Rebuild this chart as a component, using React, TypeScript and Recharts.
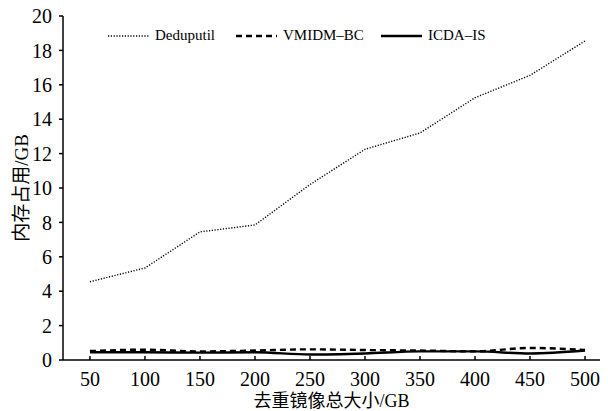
import { LineChart, Line, XAxis, YAxis, Legend } from 'recharts';

const sizes = [50, 100, 150, 200, 250, 300, 350, 400, 450, 500];
const deduputil = [4.55, 5.35, 7.45, 7.85, 10.2, 12.25, 13.2, 15.25, 16.55, 18.55];
const vmidmBc = [0.52, 0.6, 0.5, 0.55, 0.62, 0.58, 0.55, 0.5, 0.7, 0.58];
const icdaIs = [0.45, 0.45, 0.43, 0.45, 0.32, 0.38, 0.5, 0.5, 0.38, 0.55];
const xTicks = [50, 100, 150, 200, 250, 300, 350, 400, 450, 500];
const yTicks = [0, 2, 4, 6, 8, 10, 12, 14, 16, 18, 20];

const data = sizes.map((x, i) => ({
  x,
  deduputil: deduputil[i],
  vmidm: vmidmBc[i],
  icda: icdaIs[i],
}));

const SERIF = 'Liberation Serif, Noto Sans CJK SC, serif';

const legendItems = [
  { name: 'Deduputil', dash: '1.2 1.6', width: 1.4, left: 0 },
  { name: 'VMIDM–BC', dash: '6 4', width: 2.4, left: 128 },
  { name: 'ICDA–IS', dash: undefined, width: 2.4, left: 273 },
];

function LegendBox() {
  return (
    <div style={{ position: 'relative', height: 20, fontFamily: SERIF, fontSize: 15, color: '#000' }}>
      {legendItems.map((it) => (
        <div key={it.name} style={{ position: 'absolute', left: it.left, top: 0, display: 'flex', alignItems: 'center', whiteSpace: 'nowrap' }}>
          <svg width={41} height={10}>
            <line x1={0} y1={5} x2={41} y2={5} stroke="#000" strokeWidth={it.width} strokeDasharray={it.dash} />
          </svg>
          <span style={{ marginLeft: 6 }}>{it.name}</span>
        </div>
      ))}
    </div>
  );
}

export default function App() {
  return (
    <div style={{ position: 'absolute', left: 0, top: 0, width: 608, height: 411, background: '#fff' }}>
      <LineChart width={608} height={411} data={data} margin={{ top: 16, right: 8, left: 0, bottom: 0 }}>
        <XAxis
          dataKey="x"
          type="number"
          domain={[25.5, 513.6]}
          ticks={xTicks}
          allowDataOverflow
          height={51}
          stroke="#000"
          strokeWidth={1.5}
          tickSize={-4}
          tickMargin={16}
          tick={{ fill: '#000', fontSize: 20, fontFamily: SERIF }}
          label={(props: any) => {
            const vb = props.viewBox;
            return (
              <text x={vb.x + vb.width / 2} y={401} textAnchor="middle" dominantBaseline="central" fontSize={18} fontFamily={SERIF} fill="#000">
                去重镜像总大小/GB
              </text>
            );
          }}
        />
        <YAxis
          type="number"
          domain={[0, 20]}
          ticks={yTicks}
          width={63}
          stroke="#000"
          strokeWidth={1.5}
          tickSize={4}
          tickMargin={7}
          tick={{ fill: '#000', fontSize: 20, fontFamily: SERIF }}
          label={(props: any) => {
            const vb = props.viewBox;
            const cy = vb.y + vb.height / 2;
            return (
              <text x={21} y={cy} transform={`rotate(-90 21 ${cy})`} textAnchor="middle" dominantBaseline="central" fontSize={19} fontFamily={SERIF} fill="#000">
                内存占用/GB
              </text>
            );
          }}
        />
        <Legend verticalAlign="middle" align="center" layout="horizontal" content={() => <LegendBox />} wrapperStyle={{ top: 27, left: 108, width: 420 }} />
        <Line type="linear" dataKey="deduputil" name="Deduputil" stroke="#000" strokeWidth={1.4} strokeDasharray="1.2 1.6" dot={false} isAnimationActive={false} />
        <Line type="monotone" dataKey="vmidm" name="VMIDM–BC" stroke="#000" strokeWidth={2.4} strokeDasharray="6 4" dot={false} isAnimationActive={false} />
        <Line type="monotone" dataKey="icda" name="ICDA–IS" stroke="#000" strokeWidth={2.4} dot={false} isAnimationActive={false} />
      </LineChart>
    </div>
  );
}
